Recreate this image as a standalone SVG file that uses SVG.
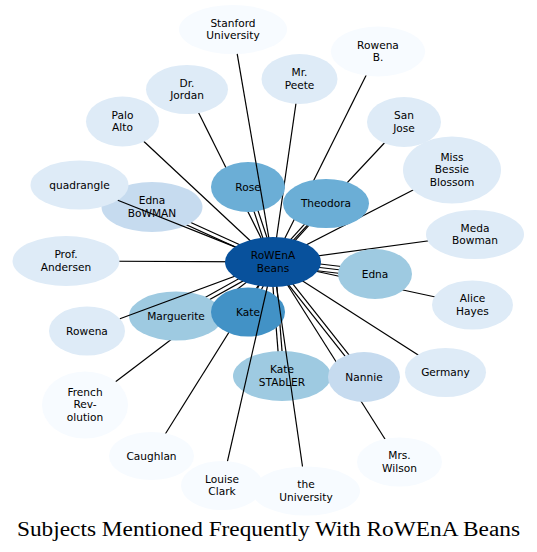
<svg xmlns="http://www.w3.org/2000/svg" width="537" height="552" viewBox="0 0 537 552">
<style>
.e line { stroke:#000; stroke-width:1.2; }
text { font-family:"DejaVu Sans", sans-serif; font-size:10.6px; text-anchor:middle; fill:#000; }
text.title { font-family:"Liberation Serif", serif; font-size:20px; text-anchor:start; }
.c0 { fill:#f7fbff; } .c1 { fill:#deebf7; } .c2 { fill:#c6dbef; } .c3 { fill:#9ecae1; }
.c4 { fill:#6baed6; } .c5 { fill:#4292c6; } .c6 { fill:#08519c; }
</style>
<rect width="537" height="552" fill="#fff"/>
<g id="connectors" class="e">
<line x1="187" y1="89.5" x2="273" y2="262"/>
<line x1="122.5" y1="121.5" x2="273" y2="262"/>
<line x1="299.5" y1="79" x2="273" y2="262"/>
<line x1="378" y1="51.5" x2="273" y2="262"/>
<line x1="404" y1="122" x2="273" y2="262"/>
<line x1="452" y1="170" x2="273" y2="262"/>
<line x1="475" y1="234.5" x2="273" y2="262"/>
<line x1="472.5" y1="305" x2="273" y2="262"/>
<line x1="445.5" y1="372.5" x2="273" y2="262"/>
<line x1="399.5" y1="462" x2="273" y2="262"/>
<line x1="151.5" y1="456" x2="273" y2="262"/>
<line x1="85" y1="405" x2="273" y2="262"/>
<line x1="66" y1="261" x2="273" y2="262"/>
<line x1="151.17" y1="208.82" x2="272.17" y2="263.82"/>
<line x1="152.83" y1="205.18" x2="273.83" y2="260.18"/>
<line x1="246.1" y1="187.63" x2="271.1" y2="262.63"/>
<line x1="249.9" y1="186.37" x2="274.9" y2="261.37"/>
<line x1="324.52" y1="202.16" x2="271.52" y2="260.66"/>
<line x1="327.48" y1="204.84" x2="274.48" y2="263.34"/>
<line x1="375.41" y1="270.52" x2="273.41" y2="258.52"/>
<line x1="375" y1="274" x2="273" y2="262"/>
<line x1="374.59" y1="277.48" x2="272.59" y2="265.48"/>
<line x1="176.97" y1="317.75" x2="273.97" y2="263.75"/>
<line x1="175.03" y1="314.25" x2="272.03" y2="260.25"/>
<line x1="249.79" y1="312.89" x2="274.79" y2="262.89"/>
<line x1="246.21" y1="311.11" x2="271.21" y2="261.11"/>
<line x1="283.99" y1="375.84" x2="274.99" y2="261.84"/>
<line x1="280.01" y1="376.16" x2="271.01" y2="262.16"/>
<line x1="365.57" y1="375.76" x2="274.57" y2="260.76"/>
<line x1="362.43" y1="378.24" x2="271.43" y2="263.24"/>
</g>
<g id="stanford"><ellipse class="c0" cx="233" cy="29.5" rx="54" ry="24.5"/><text x="233" y="26.8">Stanford</text><text x="233" y="39">University</text></g>
<g id="drjordan"><ellipse class="c1" cx="187" cy="89.5" rx="41" ry="24.5"/><text x="187" y="86.8">Dr.</text><text x="187" y="99">Jordan</text></g>
<g id="paloalto"><ellipse class="c1" cx="122.5" cy="121.5" rx="36.5" ry="25"/><text x="122.5" y="118.8">Palo</text><text x="122.5" y="131">Alto</text></g>
<g id="mrpeete"><ellipse class="c1" cx="299.5" cy="79" rx="38" ry="25"/><text x="299.5" y="76.3">Mr.</text><text x="299.5" y="88.5">Peete</text></g>
<g id="rowenab"><ellipse class="c0" cx="378" cy="51.5" rx="47" ry="25"/><text x="378" y="48.8">Rowena</text><text x="378" y="61">B.</text></g>
<g id="sanjose"><ellipse class="c1" cx="404" cy="122" rx="37" ry="25"/><text x="404" y="119.3">San</text><text x="404" y="131.5">Jose</text></g>
<g id="bessie"><ellipse class="c1" cx="452" cy="170" rx="49" ry="33.5"/><text x="452" y="161.2">Miss</text><text x="452" y="173.4">Bessie</text><text x="452" y="185.6">Blossom</text></g>
<g id="meda"><ellipse class="c1" cx="475" cy="234.5" rx="49" ry="24.5"/><text x="475" y="231.8">Meda</text><text x="475" y="244">Bowman</text></g>
<g id="alice"><ellipse class="c1" cx="472.5" cy="305" rx="40.5" ry="24.5"/><text x="472.5" y="302.3">Alice</text><text x="472.5" y="314.5">Hayes</text></g>
<g id="germany"><ellipse class="c1" cx="445.5" cy="372.5" rx="40.5" ry="24.5"/><text x="445.5" y="376.2">Germany</text></g>
<g id="mrswilson"><ellipse class="c0" cx="399.5" cy="462" rx="42.5" ry="24.5"/><text x="399.5" y="459.3">Mrs.</text><text x="399.5" y="471.5">Wilson</text></g>
<g id="university"><ellipse class="c0" cx="306" cy="491" rx="54" ry="24.5"/><text x="306" y="488.3">the</text><text x="306" y="500.5">University</text></g>
<g id="louise"><ellipse class="c0" cx="222" cy="485.5" rx="41" ry="24.5"/><text x="222" y="482.8">Louise</text><text x="222" y="495">Clark</text></g>
<g id="caughlan"><ellipse class="c0" cx="151.5" cy="456" rx="42.5" ry="24"/><text x="151.5" y="459.7">Caughlan</text></g>
<g id="frenchrev"><ellipse class="c0" cx="85" cy="405" rx="43" ry="33.5"/><text x="85" y="396.2">French</text><text x="85" y="408.4">Rev-</text><text x="85" y="420.6">olution</text></g>
<g id="rowena"><ellipse class="c1" cx="87" cy="331" rx="38" ry="24.5"/><text x="87" y="334.7">Rowena</text></g>
<g id="andersen"><ellipse class="c1" cx="66" cy="261" rx="53.5" ry="25"/><text x="66" y="258.3">Prof.</text><text x="66" y="270.5">Andersen</text></g>
<g id="ednabowman"><ellipse class="c2" cx="152" cy="207" rx="50.5" ry="25"/><text x="152" y="204.3">Edna</text><text x="152" y="216.5">BoWMAN</text></g>
<g id="quadrangle"><ellipse class="c1" cx="79.5" cy="185" rx="49" ry="24.5"/><text x="79.5" y="188.7">quadrangle</text></g>
<g id="rose"><ellipse class="c4" cx="248" cy="187" rx="37" ry="25"/><text x="248" y="190.7">Rose</text></g>
<g id="theodora"><ellipse class="c4" cx="326" cy="203.5" rx="43" ry="24.5"/><text x="326" y="207.2">Theodora</text></g>
<g id="edna"><ellipse class="c3" cx="375" cy="274" rx="37" ry="25"/><text x="375" y="277.7">Edna</text></g>
<g id="marguerite"><ellipse class="c3" cx="176" cy="316" rx="47" ry="24.5"/><text x="176" y="319.7">Marguerite</text></g>
<g id="kate"><ellipse class="c5" cx="248" cy="312" rx="37" ry="24.5"/><text x="248" y="315.7">Kate</text></g>
<g id="katestabler"><ellipse class="c3" cx="282" cy="376" rx="49" ry="25"/><text x="282" y="373.3">Kate</text><text x="282" y="385.5">STAbLER</text></g>
<g id="nannie"><ellipse class="c2" cx="364" cy="377" rx="36" ry="25"/><text x="364" y="380.7">Nannie</text></g>
<g id="connectors-over" class="e">
<line x1="237.2" y1="53.9" x2="273" y2="262"/>
<line x1="117.8" y1="200.3" x2="273" y2="262"/>
<line x1="119.9" y1="318.8" x2="273" y2="262"/>
<line x1="227.5" y1="461.2" x2="273" y2="262"/>
<line x1="302.5" y1="466.5" x2="273" y2="262"/>
</g>
<g id="hub"><ellipse class="c6" cx="273" cy="262" rx="48" ry="25"/><text x="273" y="259.3">RoWEnA</text><text x="273" y="271.5">Beans</text></g>
<text class="title" x="17" y="536" textLength="503" lengthAdjust="spacingAndGlyphs">Subjects Mentioned Frequently With RoWEnA Beans</text>
</svg>
